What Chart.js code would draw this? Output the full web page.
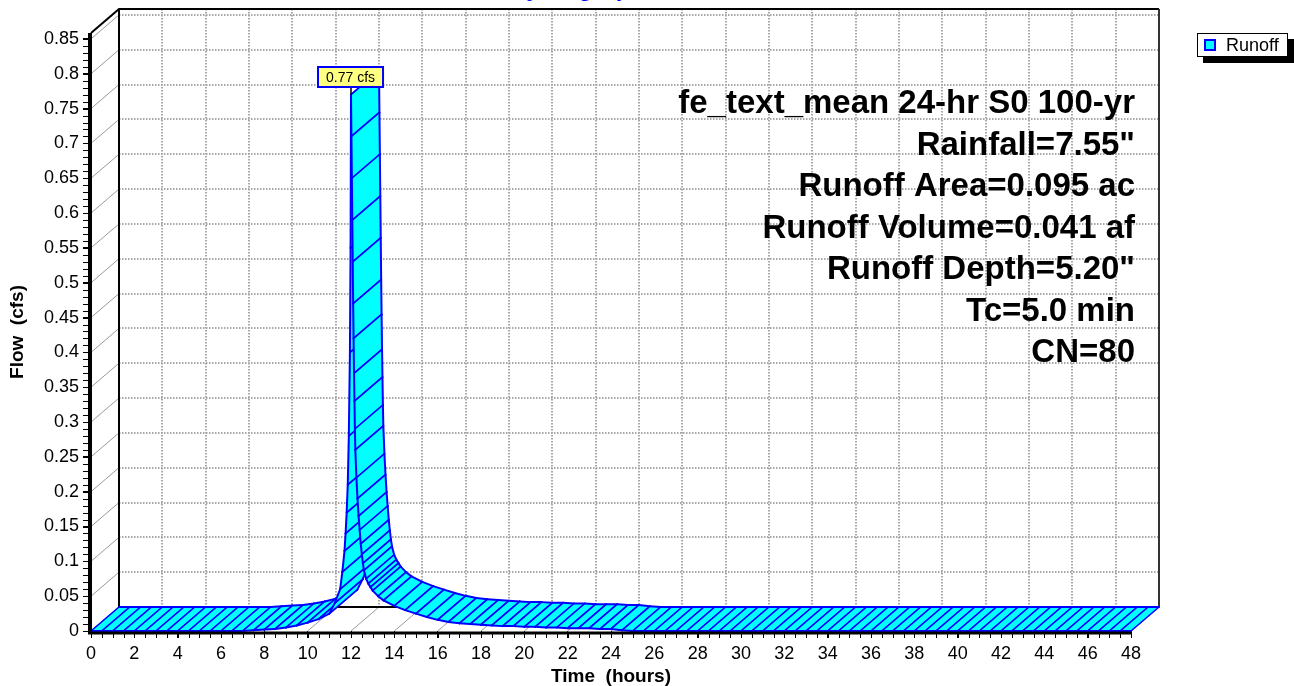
<!DOCTYPE html>
<html>
<head>
<meta charset="utf-8"/>
<title>Runoff Hydrograph</title>
<script src="https://cdn.jsdelivr.net/npm/chart.js@4.4.1/dist/chart.umd.min.js"></script>
<style>
body { margin: 0; background: #fff; }
canvas { display: block; }
</style>
</head>
<body>
<canvas id="chart" width="1294" height="686"></canvas>
<script>
// runoff hydrograph: time (hours) vs flow (cfs)
var hours = [0, 0.5, 1, 1.5, 2, 2.5, 3, 3.5, 4, 4.5, 5, 5.5, 6, 6.5, 7, 7.5,
  8, 8.5, 9, 9.5, 10, 10.5, 11, 11.25, 11.5, 11.6, 11.7, 11.75, 11.8, 11.85, 11.9, 11.95, 11.98,
  12, 12.02, 12.04, 12.06, 12.08, 12.1, 12.12, 12.14, 12.16, 12.18, 12.2, 12.25, 12.3, 12.35,
  12.4, 12.45, 12.5, 12.55, 12.6, 12.7, 12.8, 12.9, 13, 13.25, 13.5, 14, 14.5, 15, 15.5, 16,
  16.5, 17, 17.5, 18, 18.5, 19, 19.5, 20, 20.5, 21, 21.5, 22, 22.5, 23, 23.5, 24, 24.5, 25,
  25.5, 26, 26.5, 27, 27.5, 28, 28.5, 29, 29.5, 30, 30.5, 31, 31.5, 32, 32.5, 33, 33.5, 34,
  34.5, 35, 35.5, 36, 36.5, 37, 37.5, 38, 38.5, 39, 39.5, 40, 40.5, 41, 41.5, 42, 42.5, 43,
  43.5, 44, 44.5, 45, 45.5, 46, 46.5, 47, 47.5, 48];
var flow = [0, 0, 0, 0, 0, 0, 0, 0, 0, 0, 0, 0, 0, 0, 0, 0.001,
  0.002, 0.003, 0.005, 0.008, 0.012, 0.017, 0.025, 0.04, 0.06, 0.085, 0.115, 0.14, 0.17, 0.21, 0.28, 0.4, 0.55,
  0.77, 0.71, 0.65, 0.59, 0.53, 0.47, 0.42, 0.37, 0.33, 0.29, 0.26, 0.22, 0.19, 0.165,
  0.145, 0.125, 0.11, 0.097, 0.087, 0.075, 0.068, 0.063, 0.058, 0.05, 0.044, 0.036, 0.03, 0.025, 0.02, 0.016,
  0.013, 0.011, 0.01, 0.009, 0.008, 0.007, 0.007, 0.006, 0.006, 0.005, 0.005, 0.004, 0.004, 0.004, 0.003, 0.003, 0.001, 0,
  0, 0, 0, 0, 0, 0, 0, 0, 0, 0, 0, 0, 0, 0, 0, 0, 0, 0,
  0, 0, 0, 0, 0, 0, 0, 0, 0, 0, 0, 0, 0, 0, 0, 0, 0, 0,
  0, 0, 0, 0, 0, 0, 0, 0, 0, 0];

var seriesName = 'Runoff';
var chartTitle = 'Hydrograph';
var xTitle = 'Time  (hours)';
var yTitle = 'Flow  (cfs)';
var timeRange = [0, 48];
var flowRange = [0, 0.8585];
var timeStep = 2, timeMinor = 0.5;
var flowStep = 0.05, flowMinor = 0.01;
var notes = ['fe_text_mean 24-hr S0 100-yr', 'Rainfall=7.55"', 'Runoff Area=0.095 ac',
  'Runoff Volume=0.041 af', 'Runoff Depth=5.20"', 'Tc=5.0 min', 'CN=80'];

var FONT = '"Liberation Sans", Arial, sans-serif';
var CYAN = '#00ffff', BLUE = '#0000ff';
var DX = 28, DY = -24;   // depth offset of the back wall

function seg(ctx, x1, y1, x2, y2) {
  ctx.beginPath();
  ctx.moveTo(x1, y1);
  ctx.lineTo(x2, y2);
  ctx.stroke();
}

var depthPlugin = {
  id: 'depth',
  beforeDatasetsDraw: function(chart) {
    var ctx = chart.ctx, a = chart.chartArea, xs = chart.scales.x, ys = chart.scales.y;
    ctx.save();
    // dotted grid on the back wall
    ctx.strokeStyle = '#a8a8a8';
    ctx.lineWidth = 2;
    ctx.setLineDash([1.5, 1.5]);
    xs.ticks.forEach(function(t) {
      if (t.value <= xs.min || t.value >= xs.max) return;
      var px = Math.round(xs.getPixelForValue(t.value)) + DX;
      seg(ctx, px, a.top + DY, px, a.bottom + DY);
    });
    ys.ticks.forEach(function(t) {
      if (t.value <= ys.min) return;
      var py = Math.round(ys.getPixelForValue(t.value)) + DY;
      seg(ctx, a.left + DX, py, a.right + DX, py);
    });
    ctx.setLineDash([]);
    // side wall and floor lines
    ctx.strokeStyle = '#9a9a9a';
    ctx.lineWidth = 1;
    ys.ticks.forEach(function(t) {
      var py = ys.getPixelForValue(t.value);
      seg(ctx, a.left, py, a.left + DX, py + DY);
    });
    xs.ticks.forEach(function(t) {
      var px = xs.getPixelForValue(t.value);
      seg(ctx, px, a.bottom, px + DX, a.bottom + DY);
    });
    // box frame
    ctx.strokeStyle = '#000';
    ctx.lineWidth = 2;
    ctx.beginPath();
    ctx.moveTo(a.left, a.top);
    ctx.lineTo(a.left + DX, a.top + DY);
    ctx.lineTo(a.right + DX, a.top + DY);
    ctx.stroke();
    seg(ctx, a.left + DX, a.top + DY, a.left + DX, a.bottom + DY);
    seg(ctx, a.left + DX, a.bottom + DY, a.right + DX, a.bottom + DY);
    ctx.strokeStyle = '#333';
    seg(ctx, a.right + DX, a.top + DY, a.right + DX, a.bottom + DY);
    ctx.restore();
  },
  afterDatasetsDraw: function(chart) {
    var ctx = chart.ctx, a = chart.chartArea, xs = chart.scales.x, ys = chart.scales.y;
    var pts = chart.getDatasetMeta(0).data;
    ctx.save();
    ctx.lineCap = 'round';
    ctx.lineJoin = 'round';
    // ribbon, painted left to right so later faces cover earlier ones
    for (var i = 0; i < pts.length - 1; i++) {
      var f0 = pts[i], f1 = pts[i + 1];
      ctx.beginPath();
      ctx.moveTo(f0.x, f0.y);
      ctx.lineTo(f1.x, f1.y);
      ctx.lineTo(f1.x + DX, f1.y + DY);
      ctx.lineTo(f0.x + DX, f0.y + DY);
      ctx.closePath();
      ctx.fillStyle = CYAN;
      ctx.fill();
      ctx.strokeStyle = BLUE;
      ctx.lineWidth = 1.6;
      seg(ctx, f0.x, f0.y, f0.x + DX, f0.y + DY);
      seg(ctx, f1.x, f1.y, f1.x + DX, f1.y + DY);
      ctx.lineWidth = 2;
      seg(ctx, f0.x, f0.y, f1.x, f1.y);
      seg(ctx, f0.x + DX, f0.y + DY, f1.x + DX, f1.y + DY);
    }
    // front axes
    ctx.lineCap = 'butt';
    ctx.strokeStyle = '#000';
    ctx.lineWidth = 3;
    seg(ctx, a.left - 3, a.bottom + 2, a.right, a.bottom + 2);
    ctx.lineWidth = 4;
    seg(ctx, a.left - 1, a.top, a.left - 1, a.bottom + 3);
    // minor ticks
    ctx.lineWidth = 1;
    var v, p;
    for (v = flowRange[0]; v <= flowRange[1] + 1e-9; v += flowMinor) {
      p = Math.round(ys.getPixelForValue(v)) + 0.5;
      seg(ctx, a.left - 8, p, a.left - 3, p);
    }
    for (v = timeRange[0]; v <= timeRange[1] + 1e-9; v += timeMinor) {
      p = Math.round(xs.getPixelForValue(v)) + 0.5;
      seg(ctx, p, a.bottom + 3, p, a.bottom + 7);
    }
    ctx.restore();
  },
  afterDraw: function(chart) {
    var ctx = chart.ctx, a = chart.chartArea;
    var pts = chart.getDatasetMeta(0).data;
    ctx.save();

    // peak flow callout
    var iMax = flow.indexOf(Math.max.apply(null, flow));
    var pk = pts[iMax];
    var txt = flow[iMax].toFixed(2) + ' cfs';
    ctx.font = '14px ' + FONT;
    var w = ctx.measureText(txt).width + 16, h = 20;
    var bx = Math.round(pk.x - w / 2), by = Math.round(pk.y - 8 - h);
    ctx.strokeStyle = '#000';
    ctx.lineWidth = 1.5;
    seg(ctx, pk.x, pk.y, pk.x, by + h);
    ctx.fillStyle = '#ffff80';
    ctx.fillRect(bx, by, w, h);
    ctx.strokeStyle = BLUE;
    ctx.lineWidth = 2;
    ctx.strokeRect(bx, by, w, h);
    ctx.fillStyle = '#000';
    ctx.textAlign = 'center';
    ctx.textBaseline = 'middle';
    ctx.fillText(txt, bx + w / 2, by + h / 2 + 1);

    // storm / watershed notes
    ctx.font = 'bold 33px ' + FONT;
    ctx.textAlign = 'right';
    notes.forEach(function(s, k) {
      ctx.fillText(s, 1135, 104 + k * 41.5);
    });

    // legend
    ctx.fillStyle = '#000';
    ctx.fillRect(1203, 39, 91, 24);
    ctx.fillStyle = '#fff';
    ctx.fillRect(1197, 33, 91, 24);
    ctx.strokeStyle = '#000';
    ctx.lineWidth = 1;
    ctx.strokeRect(1197.5, 33.5, 90, 23);
    ctx.fillStyle = CYAN;
    ctx.fillRect(1205, 40, 10, 10);
    ctx.strokeStyle = BLUE;
    ctx.lineWidth = 2;
    ctx.strokeRect(1205, 40, 10, 10);
    ctx.fillStyle = '#000';
    ctx.font = '18px ' + FONT;
    ctx.textAlign = 'left';
    ctx.fillText(seriesName, 1226, 46);

    // title sits above the top edge
    ctx.fillStyle = BLUE;
    ctx.font = 'bold 24px ' + FONT;
    ctx.textBaseline = 'alphabetic';
    ctx.fillText(chartTitle, 509, -4.5);
    ctx.restore();
  }
};

Chart.defaults.font.family = FONT;
Chart.defaults.color = '#000';

new Chart(document.getElementById('chart'), {
  type: 'line',
  data: {
    datasets: [{
      label: seriesName,
      data: hours.map(function(t, i) { return { x: t, y: flow[i] }; }),
      showLine: false,
      pointRadius: 0,
      borderColor: BLUE,
      backgroundColor: CYAN
    }]
  },
  options: {
    responsive: false,
    animation: false,
    events: [],
    layout: { padding: { left: 0, top: 33, right: 163, bottom: 0 } },
    plugins: { legend: { display: false }, tooltip: { enabled: false } },
    scales: {
      x: {
        type: 'linear',
        min: timeRange[0],
        max: timeRange[1],
        ticks: { stepSize: timeStep, autoSkip: false, maxRotation: 0, padding: 5, font: { size: 18 }, color: '#000' },
        grid: { drawOnChartArea: false, drawTicks: true, tickLength: 7, color: '#000' },
        border: { display: false },
        title: { display: true, text: xTitle, font: { size: 19, weight: 'bold', lineHeight: 1 }, color: '#000', padding: { top: 0, bottom: 0 } },
        afterFit: function(s) { s.height = 55; }
      },
      y: {
        min: flowRange[0],
        max: flowRange[1],
        ticks: {
          stepSize: flowStep, includeBounds: false, padding: 4, font: { size: 18 }, color: '#000',
          callback: function(v) { return String(Math.round(v * 100) / 100); }
        },
        grid: { drawOnChartArea: false, drawTicks: true, tickLength: 8, color: '#000' },
        border: { display: false },
        title: { display: true, text: yTitle, font: { size: 19, weight: 'bold' }, color: '#000', padding: { top: 6, bottom: 0 } },
        afterFit: function(s) { s.width = 91; }
      }
    }
  },
  plugins: [depthPlugin]
});
</script>
</body>
</html>
